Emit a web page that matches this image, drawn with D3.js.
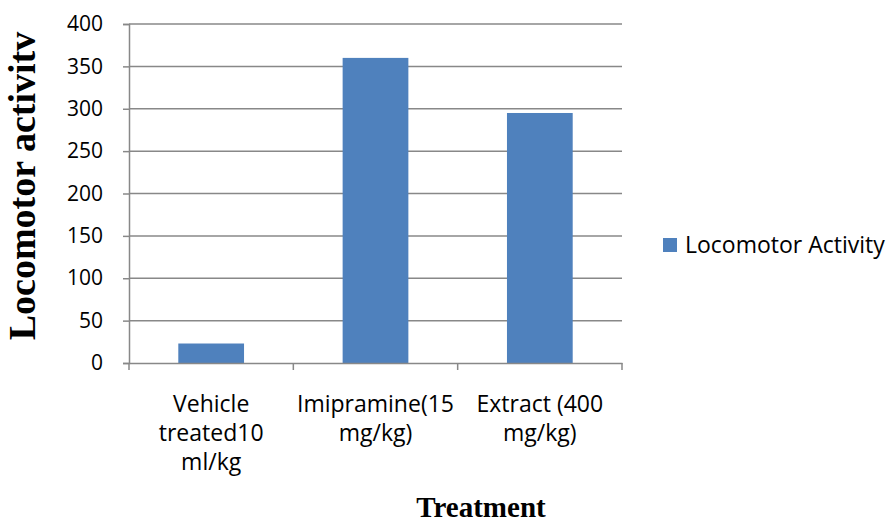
<!DOCTYPE html>
<html>
<head>
<meta charset="utf-8">
<script src="https://cdn.jsdelivr.net/npm/d3@7"></script>
<style>
  body { margin: 0; background: #fff; }
  svg { display: block; }
</style>
</head>
<body>
<div id="chart"></div>
<script>
// data
var categories = ["Vehicle treated10 ml/kg", "Imipramine(15 mg/kg)", "Extract (400 mg/kg)"];
var categoryLines = [["Vehicle", "treated10", "ml/kg"], ["Imipramine(15", "mg/kg)"], ["Extract (400", "mg/kg)"]];
var values = [23, 360, 295];
var yTicks = [0, 50, 100, 150, 200, 250, 300, 350, 400];
var seriesName = "Locomotor Activity";

var width = 889, height = 525;
var margin = {top: 24, left: 129, right: 267, bottom: 162};
var barColor = "#4F81BD", gridColor = "#888888";
var sans = "'Open Sans', sans-serif", serif = "'Liberation Serif', 'Times New Roman', serif";

var svg = d3.select("#chart").append("svg")
    .attr("width", width)
    .attr("height", height);

var x = d3.scaleBand()
    .domain(categories)
    .range([margin.left, width - margin.right])
    .padding(0);

var y = d3.scaleLinear()
    .domain([0, 400])
    .range([height - margin.bottom, margin.top]);

// gridlines
svg.append("g")
  .selectAll("line")
  .data(yTicks.slice(1))
  .enter()
  .append("line")
    .attr("x1", margin.left)
    .attr("x2", width - margin.right)
    .attr("y1", function(d) { return y(d); })
    .attr("y2", function(d) { return y(d); })
    .attr("stroke", gridColor)
    .attr("stroke-width", 1.5);

// bars
var barW = x.bandwidth() * 0.4;
svg.append("g")
  .selectAll("rect")
  .data(values)
  .enter()
  .append("rect")
    .attr("x", function(d, i) { return x(categories[i]) + (x.bandwidth() - barW) / 2; })
    .attr("y", function(d) { return y(d); })
    .attr("width", barW)
    .attr("height", function(d) { return y(0) - y(d); })
    .attr("fill", barColor);

// y axis
var yAxis = svg.append("g")
    .attr("transform", "translate(" + margin.left + ",0)")
    .call(d3.axisLeft(y).tickValues(yTicks).tickSize(6).tickPadding(20));
yAxis.select(".domain").attr("stroke", gridColor).attr("stroke-width", 1.5);
yAxis.selectAll(".tick line").attr("stroke", gridColor).attr("stroke-width", 1.5);
yAxis.selectAll("text")
    .attr("fill", "#000")
    .style("font-family", sans)
    .style("font-size", "21px");

// x axis
var xAxis = svg.append("g")
    .attr("transform", "translate(0," + y(0) + ")")
    .call(d3.axisBottom(x).tickSize(0).tickFormat(""));
xAxis.select(".domain").attr("stroke", gridColor).attr("stroke-width", 1.5);

// category boundary ticks
var edges = categories.map(function(c) { return x(c); }).concat([width - margin.right]);
svg.append("g")
  .selectAll("line")
  .data(edges)
  .enter()
  .append("line")
    .attr("x1", function(d) { return d; })
    .attr("x2", function(d) { return d; })
    .attr("y1", y(0))
    .attr("y2", y(0) + 7)
    .attr("stroke", gridColor)
    .attr("stroke-width", 1.5);

// category labels
svg.append("g")
  .selectAll("text")
  .data(categories)
  .enter()
  .append("text")
    .attr("x", function(d) { return x(d) + x.bandwidth() / 2; })
    .attr("y", y(0) + 49)
    .attr("text-anchor", "middle")
    .style("font-family", sans)
    .style("font-size", "23px")
    .attr("fill", "#000")
  .selectAll("tspan")
  .data(function(d, i) { return categoryLines[i]; })
  .enter()
  .append("tspan")
    .attr("x", function() { return this.parentNode.getAttribute("x"); })
    .attr("dy", function(d, i) { return i === 0 ? 0 : 29; })
    .text(function(d) { return d; });

// axis titles
svg.append("text")
    .attr("transform", "translate(35,186) rotate(-90)")
    .attr("text-anchor", "middle")
    .style("font-family", serif)
    .style("font-weight", "bold")
    .style("font-size", "38px")
    .text("Locomotor activitv");

svg.append("text")
    .attr("x", 481)
    .attr("y", 517)
    .attr("text-anchor", "middle")
    .style("font-family", serif)
    .style("font-weight", "bold")
    .style("font-size", "29px")
    .text("Treatment");

// legend
var legend = svg.append("g").attr("transform", "translate(663,238)");
legend.append("rect")
    .attr("width", 14)
    .attr("height", 14)
    .attr("fill", barColor);
legend.append("text")
    .attr("x", 22)
    .attr("y", 15)
    .style("font-family", sans)
    .style("font-size", "23px")
    .text(seriesName);
</script>
</body>
</html>
